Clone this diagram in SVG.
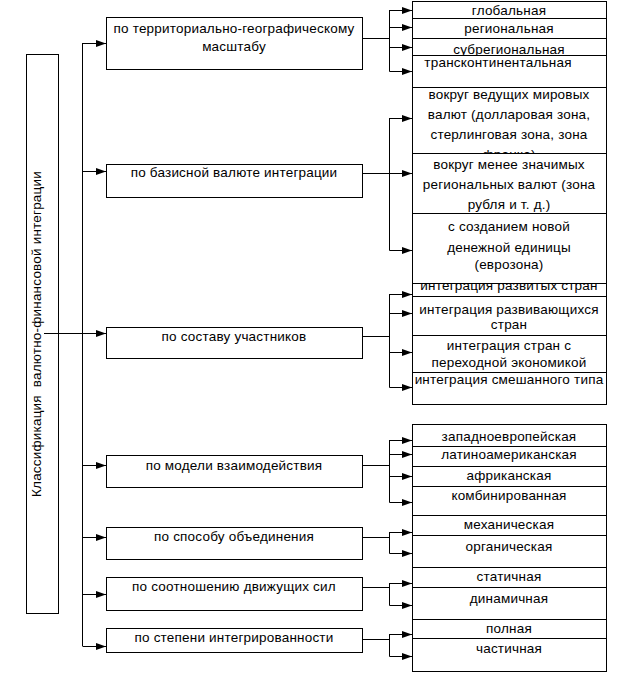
<svg xmlns="http://www.w3.org/2000/svg" width="626" height="692" viewBox="0 0 626 692">
<style>
rect{fill:#fff;stroke:#000;stroke-width:1}
rect.bg{stroke:none}
text{font-family:"Liberation Sans",Arial,sans-serif;font-size:13.5px;letter-spacing:0.2px;fill:#000;text-anchor:middle}
.c path{fill:none;stroke:#000;stroke-width:1}
.c .a{marker-end:url(#ah)}
</style>
<defs>
<marker id="ah" markerUnits="userSpaceOnUse" markerWidth="11" markerHeight="8" refX="10" refY="3.5" orient="auto">
<path d="M0,0 L10,3.5 L0,7 z" fill="#000"/>
</marker>
<clipPath id="k3"><rect x="412" y="38" width="195" height="17"/></clipPath>
<clipPath id="k5"><rect x="412" y="87" width="195" height="66"/></clipPath>
<clipPath id="k8"><rect x="412" y="284" width="195" height="13"/></clipPath>
</defs>
<rect class="bg" x="0" y="0" width="626" height="692"/>
<g id="root"><rect x="26.5" y="54.5" width="32" height="559"/><text transform="translate(40.5,334) rotate(-90)" xml:space="preserve">Классификация  валютно-финансовой интеграции</text></g>
<g class="c" id="connectors">
<path d="M82.5,43 V646"/>
<path d="M44,333.5 H82.5"/>
<path class="a" d="M82.5,43.5 H106"/>
<path class="a" d="M82.5,171.5 H106"/>
<path class="a" d="M82.5,333.5 H106"/>
<path class="a" d="M82.5,465.5 H106"/>
<path class="a" d="M82.5,537.5 H106"/>
<path class="a" d="M82.5,594.5 H106"/>
<path class="a" d="M82.5,646.5 H106"/>
<path d="M363,38.5 H389.5 M389.5,10 V71.5"/>
<path class="a" d="M389.5,10.5 H412"/><path class="a" d="M389.5,27.5 H412"/><path class="a" d="M389.5,47.5 H412"/><path class="a" d="M389.5,71.5 H412"/>
<path d="M363,173.5 H389.5 M389.5,118 V250.5"/>
<path class="a" d="M389.5,118.5 H412"/><path class="a" d="M389.5,173.5 H412"/><path class="a" d="M389.5,250.5 H412"/>
<path d="M363,336.5 H389.5 M389.5,294 V387.5"/>
<path class="a" d="M389.5,294.5 H412"/><path class="a" d="M389.5,313.5 H412"/><path class="a" d="M389.5,352.5 H412"/><path class="a" d="M389.5,387.5 H412"/>
<path d="M363,465.5 H389.5 M389.5,440 V502.5"/>
<path class="a" d="M389.5,440.5 H412"/><path class="a" d="M389.5,454.5 H412"/><path class="a" d="M389.5,476.5 H412"/><path class="a" d="M389.5,502.5 H412"/>
<path d="M363,537.5 H389.5 M389.5,532 V553.5"/>
<path class="a" d="M389.5,532.5 H412"/><path class="a" d="M389.5,553.5 H412"/>
<path d="M363,587.5 H389.5 M389.5,583 V605.5"/>
<path class="a" d="M389.5,583.5 H412"/><path class="a" d="M389.5,605.5 H412"/>
<path d="M363,639.5 H389.5 M389.5,634 V656.5"/>
<path class="a" d="M389.5,634.5 H412"/><path class="a" d="M389.5,656.5 H412"/>
</g>
<g id="m1"><rect x="106.5" y="17.5" width="256" height="52"/><text x="234" y="33">по территориально-географическому</text><text x="234" y="51">масштабу</text></g>
<g id="m2"><rect x="106.5" y="164.5" width="256" height="33"/><text x="234" y="177">по базисной валюте интеграции</text></g>
<g id="m3"><rect x="106.5" y="327.5" width="256" height="31"/><text x="234" y="341">по составу участников</text></g>
<g id="m4"><rect x="106.5" y="455.5" width="256" height="32"/><text x="234" y="470">по модели взаимодействия</text></g>
<g id="m5"><rect x="106.5" y="527.5" width="256" height="32"/><text x="234" y="541">по способу объединения</text></g>
<g id="m6"><rect x="106.5" y="577.5" width="256" height="33"/><text x="234" y="591">по соотношению движущих сил</text></g>
<g id="m7"><rect x="106.5" y="628.5" width="256" height="24"/><text x="234" y="642">по степени интегрированности</text></g>
<g id="r1"><rect x="412.5" y="1.5" width="194" height="17"/><text x="509" y="15">глобальная</text></g>
<g id="r2"><rect x="412.5" y="18.5" width="194" height="20"/><text x="509" y="33">региональная</text></g>
<g id="r3"><rect x="412.5" y="38.5" width="194" height="17"/><text x="509" y="53.5" clip-path="url(#k3)">субрегиональная</text></g>
<g id="r4"><rect x="412.5" y="55.5" width="194" height="33"/><text x="498" y="67">трансконтинентальная</text></g>
<g id="r5"><rect x="412.5" y="87.5" width="194" height="66"/><text x="509" y="99">вокруг ведущих мировых</text><text x="509" y="119">валют (долларовая зона,</text><text x="509" y="139">стерлинговая зона, зона</text><text x="509" y="159" clip-path="url(#k5)">франка)</text></g>
<g id="r6"><rect x="412.5" y="153.5" width="194" height="60"/><text x="509" y="169">вокруг менее значимых</text><text x="509" y="189">региональных валют (зона</text><text x="509" y="209">рубля и т. д.)</text></g>
<g id="r8"><rect x="412.5" y="279.5" width="194" height="17"/><text x="509" y="290" clip-path="url(#k8)">интеграция развитых стран</text></g>
<g id="r7"><rect x="412.5" y="213.5" width="194" height="70"/><text x="509" y="231">с созданием новой</text><text x="509" y="252">денежной единицы</text><text x="509" y="269">(еврозона)</text></g>
<g id="r9"><rect x="412.5" y="296.5" width="194" height="39"/><text x="509" y="314">интеграция развивающихся</text><text x="509" y="329">стран</text></g>
<g id="r10"><rect x="412.5" y="335.5" width="194" height="37"/><text x="509" y="350">интеграция стран с</text><text x="509" y="367">переходной экономикой</text></g>
<g id="r11"><rect x="412.5" y="372.5" width="194" height="32"/><text x="509" y="384">интеграция смешанного типа</text></g>
<g id="r12"><rect x="412.5" y="424.5" width="194" height="22"/><text x="509" y="441">западноевропейская</text></g>
<g id="r13"><rect x="412.5" y="446.5" width="194" height="20"/><text x="509" y="459">латиноамериканская</text></g>
<g id="r14"><rect x="412.5" y="466.5" width="194" height="20"/><text x="509" y="480">африканская</text></g>
<g id="r15"><rect x="412.5" y="486.5" width="194" height="29"/><text x="509" y="500">комбинированная</text></g>
<g id="r16"><rect x="412.5" y="515.5" width="194" height="20"/><text x="509" y="529">механическая</text></g>
<g id="r17"><rect x="412.5" y="535.5" width="194" height="32"/><text x="509" y="551">органическая</text></g>
<g id="r18"><rect x="412.5" y="567.5" width="194" height="20"/><text x="509" y="581">статичная</text></g>
<g id="r19"><rect x="412.5" y="587.5" width="194" height="32"/><text x="509" y="603">динамичная</text></g>
<g id="r20"><rect x="412.5" y="619.5" width="194" height="19"/><text x="509" y="633">полная</text></g>
<g id="r21"><rect x="412.5" y="638.5" width="194" height="33"/><text x="509" y="653">частичная</text></g>
</svg>
